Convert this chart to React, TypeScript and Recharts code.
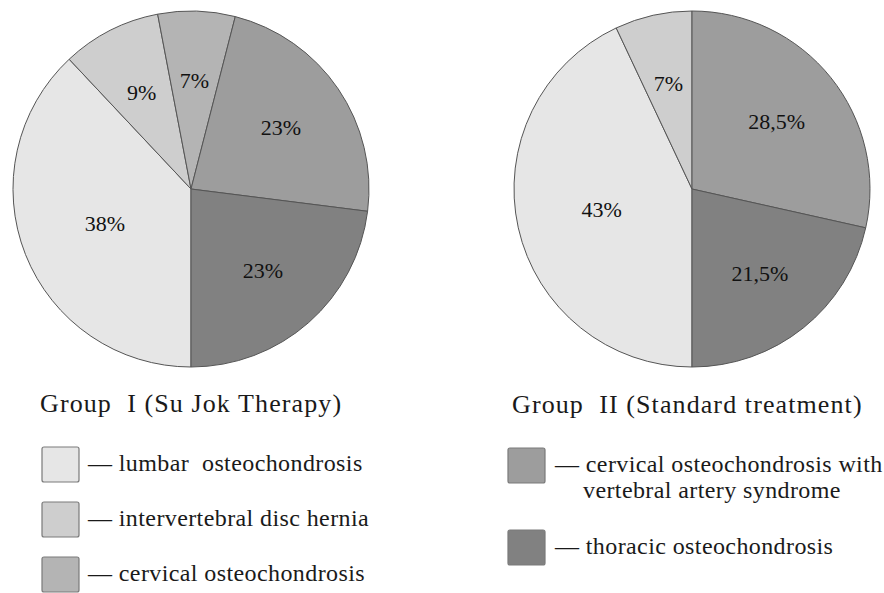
import { Cell, Pie, PieChart } from "recharts";

// disease categories and their fills
const categoryColors: Record<string, string> = {
  lumbar: "#e6e6e6",
  hernia: "#cecece",
  cervical: "#b4b4b4",
  vas: "#9d9d9d",
  thoracic: "#818181",
};

// Group I, clockwise from 6 o'clock
const group1Keys = ["lumbar", "hernia", "cervical", "vas", "thoracic"];
const group1Values = [38, 9, 7, 23, 23];
const group1Labels = ["38%", "9%", "7%", "23%", "23%"];

// Group II, clockwise from 6 o'clock
const group2Keys = ["lumbar", "hernia", "vas", "thoracic"];
const group2Values = [43, 7, 28.5, 21.5];
const group2Labels = ["43%", "7%", "28,5%", "21,5%"];

const titles = ["Group  I (Su Jok Therapy)", "Group  II (Standard treatment)"];

const legendLeft = [
  { key: "lumbar", lines: ["— lumbar  osteochondrosis"] },
  { key: "hernia", lines: ["— intervertebral disc hernia"] },
  { key: "cervical", lines: ["— cervical osteochondrosis"] },
];
const legendRight = [
  { key: "vas", lines: ["— cervical osteochondrosis with", "vertebral artery syndrome"] },
  { key: "thoracic", lines: ["— thoracic osteochondrosis"] },
];

const FONT = "'Liberation Serif', 'DejaVu Serif', 'Times New Roman', serif";
const RADIAN = Math.PI / 180;

const group1 = group1Keys.map((key, i) => ({ key, value: group1Values[i], label: group1Labels[i] }));
const group2 = group2Keys.map((key, i) => ({ key, value: group2Values[i], label: group2Labels[i] }));

function renderLabel(props: any) {
  const { cx, cy, midAngle, outerRadius, percent, payload } = props;
  const r = outerRadius * (percent > 0.3 ? 0.52 : 0.61);
  const x = cx + r * Math.cos(-midAngle * RADIAN);
  const y = cy + r * Math.sin(-midAngle * RADIAN);
  return (
    <text x={x} y={y} textAnchor="middle" dominantBaseline="central" style={{ fontFamily: FONT, fontSize: 22 }} fill="#111">
      {payload.label}
    </text>
  );
}

function LegendBlock({ items, x, y, textX, step }: { items: typeof legendLeft; x: number; y: number; textX: number; step: number[] }) {
  return (
    <g>
      {items.map((item, i) => (
        <g key={item.key}>
          <rect x={x} y={y + step[i]} width={37} height={35} rx={2} fill={categoryColors[item.key]} stroke="#7a7a7a" strokeWidth={1.2} />
          {item.lines.map((line, j) => (
            <text
              key={j}
              x={j === 0 ? textX : textX + 28}
              y={y + step[i] + 24 + j * 26}
              fill="#1a1a1a"
              style={{ fontFamily: FONT, fontSize: 24, letterSpacing: 0.4, whiteSpace: "pre" }}
            >
              {line}
            </text>
          ))}
        </g>
      ))}
    </g>
  );
}

export default function App() {
  return (
    <div style={{ position: "absolute", left: 0, top: 0, width: 884, height: 593, background: "#fff", fontFamily: FONT }}>
      <PieChart width={884} height={593} margin={{ top: 0, right: 0, bottom: 0, left: 0 }}>
        <Pie
          data={group1}
          dataKey="value"
          cx={191}
          cy={189}
          outerRadius={178}
          startAngle={-90}
          endAngle={-450}
          stroke="#555"
          strokeWidth={1}
          label={renderLabel}
          labelLine={false}
          isAnimationActive={false}
        >
          {group1.map((d) => (
            <Cell key={d.key} fill={categoryColors[d.key]} />
          ))}
        </Pie>
        <Pie
          data={group2}
          dataKey="value"
          cx={692}
          cy={189}
          outerRadius={178}
          startAngle={-90}
          endAngle={-450}
          stroke="#555"
          strokeWidth={1}
          label={renderLabel}
          labelLine={false}
          isAnimationActive={false}
        >
          {group2.map((d) => (
            <Cell key={d.key} fill={categoryColors[d.key]} />
          ))}
        </Pie>
      </PieChart>
      <svg width={884} height={593} style={{ position: "absolute", left: 0, top: 0 }}>
        <text x={40} y={412} fill="#1a1a1a" style={{ fontFamily: FONT, fontSize: 26, letterSpacing: 1.1, whiteSpace: "pre" }}>
          {titles[0]}
        </text>
        <text x={512} y={413} fill="#1a1a1a" style={{ fontFamily: FONT, fontSize: 26, letterSpacing: 1.1, whiteSpace: "pre" }}>
          {titles[1]}
        </text>
        <LegendBlock items={legendLeft} x={42} y={447} textX={88} step={[0, 55, 110]} />
        <LegendBlock items={legendRight} x={508} y={448} textX={555} step={[0, 82]} />
      </svg>
    </div>
  );
}
